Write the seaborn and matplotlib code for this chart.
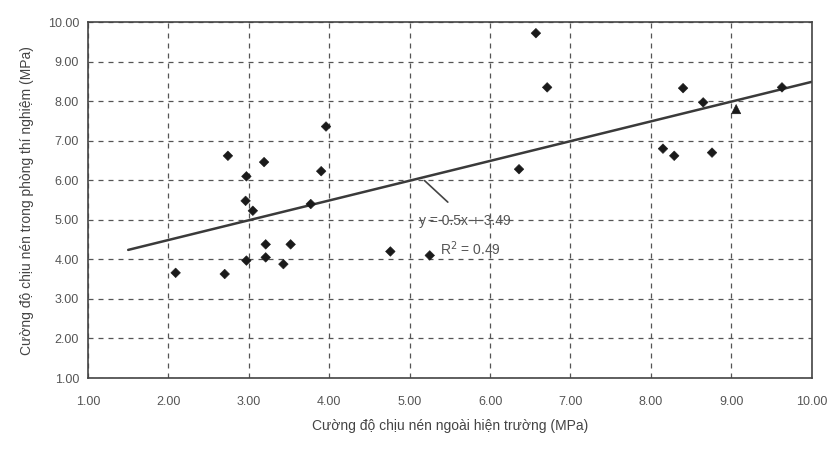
import matplotlib
matplotlib.use("Agg")
import matplotlib.pyplot as plt
import seaborn as sns
import numpy as np
import pandas as pd

# số liệu
x_field = [2.09, 2.70, 2.74, 2.97, 2.96, 3.05, 2.97, 3.19, 3.21, 3.21, 3.43, 3.52,
           3.77, 3.96, 3.90, 4.76, 5.25, 6.36, 6.57, 6.71, 8.15, 8.29, 8.40, 8.65,
           8.76, 9.06, 9.63]
y_lab = [3.66, 3.63, 6.62, 6.10, 5.48, 5.23, 3.97, 6.46, 4.38, 4.05, 3.88, 4.38,
         5.40, 7.36, 6.23, 4.20, 4.10, 6.28, 9.72, 8.35, 6.80, 6.62, 8.33, 7.97,
         6.70, 7.80, 8.35]
point_kind = ["d"] * 25 + ["t", "d"]
slope = 0.5
intercept = 3.49
r2 = 0.49
trend_x = [1.5, 10.0]
ticks = [1, 2, 3, 4, 5, 6, 7, 8, 9, 10]

sns.set_theme(style="white")
plt.rcParams['font.family'] = ['Liberation Sans', 'DejaVu Sans']

df = pd.DataFrame({"x": x_field, "y": y_lab, "kind": point_kind})
trend = pd.DataFrame({"x": trend_x, "y": [slope * v + intercept for v in trend_x]})

fig = plt.figure(figsize=(8.3, 4.61), dpi=100)
ax = fig.add_axes([0.106, 0.18, 0.872, 0.772])

sns.lineplot(data=trend, x="x", y="y", ax=ax, color="#3a3a3a", linewidth=1.8)
sns.scatterplot(data=df, x="x", y="y", style="kind", markers={"d": "D", "t": "^"},
                size="kind", sizes={"d": 24, "t": 45},
                ax=ax, color="#1a1a1a", edgecolor="#1a1a1a", legend=False, zorder=3)

ax.set_xlim(1, 10)
ax.set_ylim(1, 10)
ax.set_xticks(ticks)
ax.set_yticks(ticks)
ax.set_xticklabels(["%.2f" % t for t in ticks])
ax.set_yticklabels(["%.2f" % t for t in ticks])
ax.tick_params(axis="both", labelsize=9, colors="#555555", length=3, direction="out")
ax.tick_params(axis="x", pad=10)
ax.grid(True, linestyle=(0, (4, 4)), color="#555555", linewidth=0.9)
for s in ax.spines.values():
    s.set_color("#444444")
    s.set_linewidth(1.2)

ax.set_xlabel("Cường độ chịu nén ngoài hiện trường (MPa)", fontsize=10, color="#444444", labelpad=8)
ax.set_ylabel("Cường độ chịu nén trong phòng thí nghiệm (MPa)", fontsize=10, color="#444444", labelpad=10)

# nhãn phương trình hồi quy
ax.annotate("", xy=(5.16, slope * 5.16 + intercept - 0.03), xytext=(5.5, 5.4),
            arrowprops=dict(arrowstyle="-", color="#444444", lw=1.2))
ax.text(5.12, 4.97, "y = %.1fx + %.2f" % (slope, intercept), fontsize=10, color="#555555",
        va="center")
ax.text(5.38, 4.27, "R$^2$ = %.2f" % r2, fontsize=10, color="#555555", va="center")

fig.savefig("out.png", dpi=100)
